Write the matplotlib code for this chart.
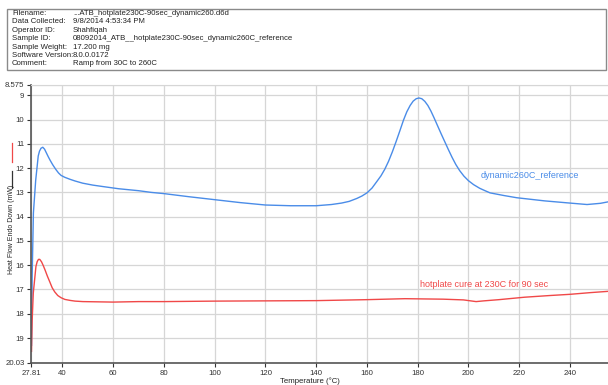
import matplotlib.pyplot as plt
from matplotlib.lines import Line2D
from matplotlib.patches import Rectangle

plt.rcParams['font.family'] = ['Liberation Sans', 'DejaVu Sans']

# header info
header_keys = ["Filename:", "Data Collected:", "Operator ID:", "Sample ID:",
               "Sample Weight:", "Software Version:", "Comment:"]
header_vals = ["...ATB_hotplate230C-90sec_dynamic260.d6d", "9/8/2014 4:53:34 PM",
               "Shahfiqah", "08092014_ATB__hotplate230C-90sec_dynamic260C_reference",
               "17.200 mg", "8.0.0.0172", "Ramp from 30C to 260C"]

# dynamic260C_reference (blue)
ref_temp = [27.85, 28.1, 28.6, 29.5, 30.5, 31.0, 31.6, 32.3, 33.0, 33.7, 34.4, 35.1,
            36.2, 37.4, 38.5, 39.5, 41, 43, 45, 48, 52, 56, 62.2, 70, 75, 80, 90, 100,
            110, 120, 130, 140, 146, 150, 153, 156, 158, 160, 162, 163.9, 165.5, 167,
            168.5, 170, 171.5, 173, 174.4, 175.7, 177, 178.2, 179.4, 180.5, 181.6,
            182.8, 184, 185.2, 186.4, 187.8, 189.2, 190.6, 192, 193.5, 195, 196.5,
            198.2, 200, 202, 204.4, 206.5, 208.5, 214, 219, 230, 238.8, 246.7, 252,
            256, 258.5]
ref_hf = [19.3, 16.5, 13.85, 12.5, 11.5, 11.3, 11.18, 11.14, 11.22, 11.37, 11.52, 11.66,
          11.86, 12.05, 12.2, 12.3, 12.38, 12.46, 12.53, 12.62, 12.7, 12.76, 12.85,
          12.93, 13.0, 13.05, 13.18, 13.3, 13.42, 13.52, 13.55, 13.55, 13.5, 13.44,
          13.37, 13.25, 13.15, 13.02, 12.82, 12.55, 12.32, 12.05, 11.72, 11.33, 10.9,
          10.45, 10.02, 9.68, 9.42, 9.24, 9.14, 9.11, 9.14, 9.25, 9.42, 9.65, 9.92,
          10.25, 10.58, 10.9, 11.22, 11.55, 11.85, 12.1, 12.33, 12.52, 12.68, 12.83,
          12.93, 13.02, 13.13, 13.22, 13.35, 13.43, 13.5, 13.45, 13.37, 13.33]

# hotplate cure at 230C for 90 sec (red)
cure_temp = [27.85, 28.1, 28.55, 29.6, 30.1, 30.6, 31.1, 31.8, 32.5, 33.2, 34.1, 35.1,
             36.0, 37.0, 38.2, 39.5, 41, 43, 45, 48.1, 60, 70, 80, 100, 120, 140, 160,
             175, 190, 198, 203, 206, 212, 222, 232, 240, 248, 256, 258.5]
cure_hf = [19.55, 18.3, 17.15, 16.05, 15.85, 15.76, 15.76, 15.86, 16.02, 16.2, 16.45,
           16.7, 16.93, 17.1, 17.25, 17.34, 17.41, 17.45, 17.48, 17.5, 17.52, 17.5,
           17.5, 17.48, 17.47, 17.46, 17.42, 17.38, 17.4, 17.43, 17.5, 17.47, 17.42,
           17.32, 17.25, 17.2, 17.13, 17.07, 17.05]

x_ticks = [27.81, 40, 60, 80, 100, 120, 140, 160, 180, 200, 220, 240, 258.5]
x_labels = ["27.81", "40", "60", "80", "100", "120", "140", "160", "180", "200",
            "220", "240", "258.5"]
y_ticks = [8.575, 9, 10, 11, 12, 13, 14, 15, 16, 17, 18, 19, 20.03]
y_labels = ["8.575", "9", "10", "11", "12", "13", "14", "15", "16", "17", "18", "19", "20.03"]

blue = "#4a8ce8"
red = "#f04848"

fig = plt.figure(figsize=(6.08, 3.85), dpi=100)
W, H = 608.0, 385.0

# header box
fig.patches.append(Rectangle((7 / W, 1 - 70 / H), 599 / W, 61 / H, transform=fig.transFigure,
                             facecolor="white", edgecolor="#8a8a8a", linewidth=1.0))
for i, (k, v) in enumerate(zip(header_keys, header_vals)):
    yy = 1 - (13.5 + i * 8.4) / H
    fig.text(12 / W, yy, k, fontsize=5.6, va="center", color="#222222")
    fig.text(73 / W, yy, v, fontsize=5.6, va="center", color="#222222")

ax = fig.add_axes([31.4 / W, 22 / H, (617 - 31.4) / W, (363 - 85) / H])
ax.plot(ref_temp, ref_hf, color=blue, linewidth=1.0)
ax.plot(cure_temp, cure_hf, color=red, linewidth=1.0)
ax.set_xlim(27.81, 258.5)
ax.set_ylim(20.03, 8.575)
ax.set_xticks(x_ticks)
ax.set_xticklabels(x_labels)
ax.set_yticks(y_ticks)
ax.set_yticklabels(y_labels)
ax.tick_params(labelsize=5.6, length=3, width=0.8, colors="#333333", pad=2)
ax.grid(True, color="#d6d6d6", linewidth=0.9)
ax.set_axisbelow(True)
for s in ["left", "bottom"]:
    ax.spines[s].set_color("#555555")
    ax.spines[s].set_linewidth(1.2)
ax.spines["top"].set_color("#d6d6d6")
ax.spines["right"].set_visible(False)

ax.text(204.8, 12.32, "dynamic260C_reference", color=blue, fontsize=6.5, va="center")
ax.text(180.8, 16.8, "hotplate cure at 230C for 90 sec", color=red, fontsize=6.5, va="center")

fig.text(310 / W, 1 - 381 / H, "Temperature (\u00b0C)", fontsize=5.6, ha="center",
         va="center", color="#222222")
fig.text(12 / W, 1 - 274 / H, "Heat Flow Endo Down (mW)", fontsize=5.0, rotation=90,
         ha="center", va="bottom", color="#222222")
fig.lines.append(Line2D([12 / W, 12 / W], [1 - 188 / H, 1 - 171 / H],
                        transform=fig.transFigure, color="#333333", linewidth=0.9))
fig.lines.append(Line2D([12 / W, 12 / W], [1 - 162 / H, 1 - 143 / H],
                        transform=fig.transFigure, color=red, linewidth=0.9))

fig.savefig("out.png", dpi=100)
